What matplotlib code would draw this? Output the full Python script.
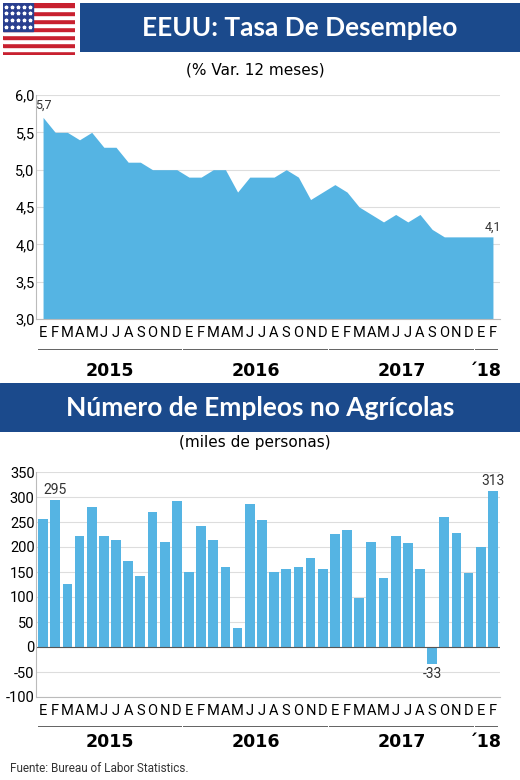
import matplotlib
matplotlib.use("Agg")
import matplotlib.pyplot as plt
from matplotlib.patches import Rectangle
plt.rcParams["axes.unicode_minus"] = False
plt.rcParams["font.family"] = ["DejaVu Sans"]

months = ["E","F","M","A","M","J","J","A","S","O","N","D"]*3 + ["E","F"]
unemp = [5.7,5.5,5.5,5.4,5.5,5.3,5.3,5.1,5.1,5.0,5.0,5.0,
         4.9,4.9,5.0,5.0,4.7,4.9,4.9,4.9,5.0,4.9,4.6,4.7,
         4.8,4.7,4.5,4.4,4.3,4.4,4.3,4.4,4.2,4.1,4.1,4.1,
         4.1,4.1]
jobs = [257,295,126,223,280,223,215,173,142,271,211,292,
        151,242,215,160,38,287,255,151,156,161,178,156,
        227,235,98,211,138,222,209,156,-33,261,228,148,
        200,313]
years = ["2015","2016","2017","´18"]
year_spans = [(0,11),(12,23),(24,35),(36,37)]
u_ticks = [3.0,3.5,4.0,4.5,5.0,5.5,6.0]
j_ticks = list(range(-100,351,50))

W,H = 520,780
BLUE = "#55b4e3"
NAVY = "#1b4a8c"
COND = "Roboto"
fig = plt.figure(figsize=(5.2,7.8), dpi=100)
fig.patch.set_facecolor("white")
N = len(unemp)
xs = list(range(N))

def fa(x0,y0,x1,y1):
    return fig.add_axes([x0/W, 1-y1/H, (x1-x0)/W, (y1-y0)/H])

def banner(y0,y1,text,x0):
    ax = fa(x0,y0,520,y1); ax.set_axis_off()
    ax.add_patch(Rectangle((0,0),1,1,color=NAVY,transform=ax.transAxes))
    ax.text(0.5,0.5,text,color="white",fontsize=19,fontweight="bold",
            ha="center",va="center",transform=ax.transAxes,family="Lato")

# flag
fl = fa(3,3,75,55); fl.set_axis_off(); fl.set_xlim(0,1); fl.set_ylim(0,13)
for i in range(13):
    fl.add_patch(Rectangle((0,i),1,1,color="#c8202f" if i%2==0 else "white"))
fl.add_patch(Rectangle((0,6),0.42,7,color="#2a3f8f"))
for r in range(4):
    for c in range(5):
        fl.plot(0.04+c*0.085,7+r*1.7,marker="*",color="white",ms=2.5)
banner(3,52,"EEUU: Tasa De Desempleo",80)
fig.text(255/W,1-70/H,"(% Var. 12 meses)",ha="center",va="center",fontsize=11)
banner(383,432,"Número de Empleos no Agrícolas",0)
fig.text(255/W,1-443/H,"(miles de personas)",ha="center",va="center",fontsize=11)

def style(ax):
    for s in ["top","right"]: ax.spines[s].set_visible(False)
    ax.spines["left"].set_color("#bbbbbb"); ax.spines["bottom"].set_color("#bbbbbb")
    ax.grid(axis="y",color="#dddddd",lw=0.8); ax.set_axisbelow(True)
    ax.set_xlim(-0.58,37.58)
    ax.set_xticks(xs); ax.set_xticklabels(months,fontsize=10.5,family=COND)
    ax.tick_params(axis="x",length=0,pad=5)
    ax.tick_params(axis="y",length=0,labelsize=10.5,pad=1)
    for t in ax.get_yticklabels(): t.set_family(COND)

def years_row(ax,y0,y1,yline,ytext):
    h = y1-y0
    fl_ = (y1-yline)/h; ft = (y1-ytext)/h
    tr = ax.get_xaxis_transform()
    for (a,b),lab in zip(year_spans,years):
        r = Rectangle((a-0.45,fl_),(b-a)+0.9,1.2/h,transform=tr,color="#666666",
                      clip_on=False,zorder=5,lw=0)
        ax.add_patch(r)
        if lab=="´18":
            ax.text(b+0.75,ft,lab,transform=tr,ha="right",va="center",fontsize=12.5,fontweight="bold")
        else:
            ax.text((a+b)/2,ft,lab,transform=tr,ha="center",va="center",fontsize=12.5,fontweight="bold")

ax1 = fa(36,95,500,319)
ax1.fill_between(xs,unemp,3.0,color=BLUE,lw=0)
ax1.set_ylim(3.0,6.0); ax1.set_yticks(u_ticks)
ax1.set_yticklabels([f"{v:.1f}".replace(".",",") for v in u_ticks])
style(ax1)
ax1.text(0,unemp[0]+0.07,"5,7",ha="center",va="bottom",fontsize=9,family=COND,color="#333333")
ax1.text(N-1,unemp[-1]+0.04,"4,1",ha="center",va="bottom",fontsize=9,family=COND,color="#333333")
years_row(ax1,95,319,350,371)

ax2 = fa(36,472,500,697)
ax2.bar(xs,jobs,width=0.8,color=BLUE)
ax2.axhline(0,color="#555555",lw=0.8)
ax2.set_ylim(-100,350); ax2.set_yticks(j_ticks)
style(ax2)
ax2.text(1,jobs[1]+6,"295",ha="center",va="bottom",fontsize=10,family=COND,color="#333333")
ax2.text(N-1,jobs[-1]+6,"313",ha="center",va="bottom",fontsize=10,family=COND,color="#333333")
ax2.text(32,jobs[32]-6,"-33",ha="center",va="top",fontsize=10,family=COND,color="#333333")
years_row(ax2,472,697,727,742)

fig.text(10/W,1-768/H,"Fuente: Bureau of Labor Statistics.",fontsize=8.5,va="center",family=COND,color="#333333")
fig.savefig("out.png",dpi=100)
